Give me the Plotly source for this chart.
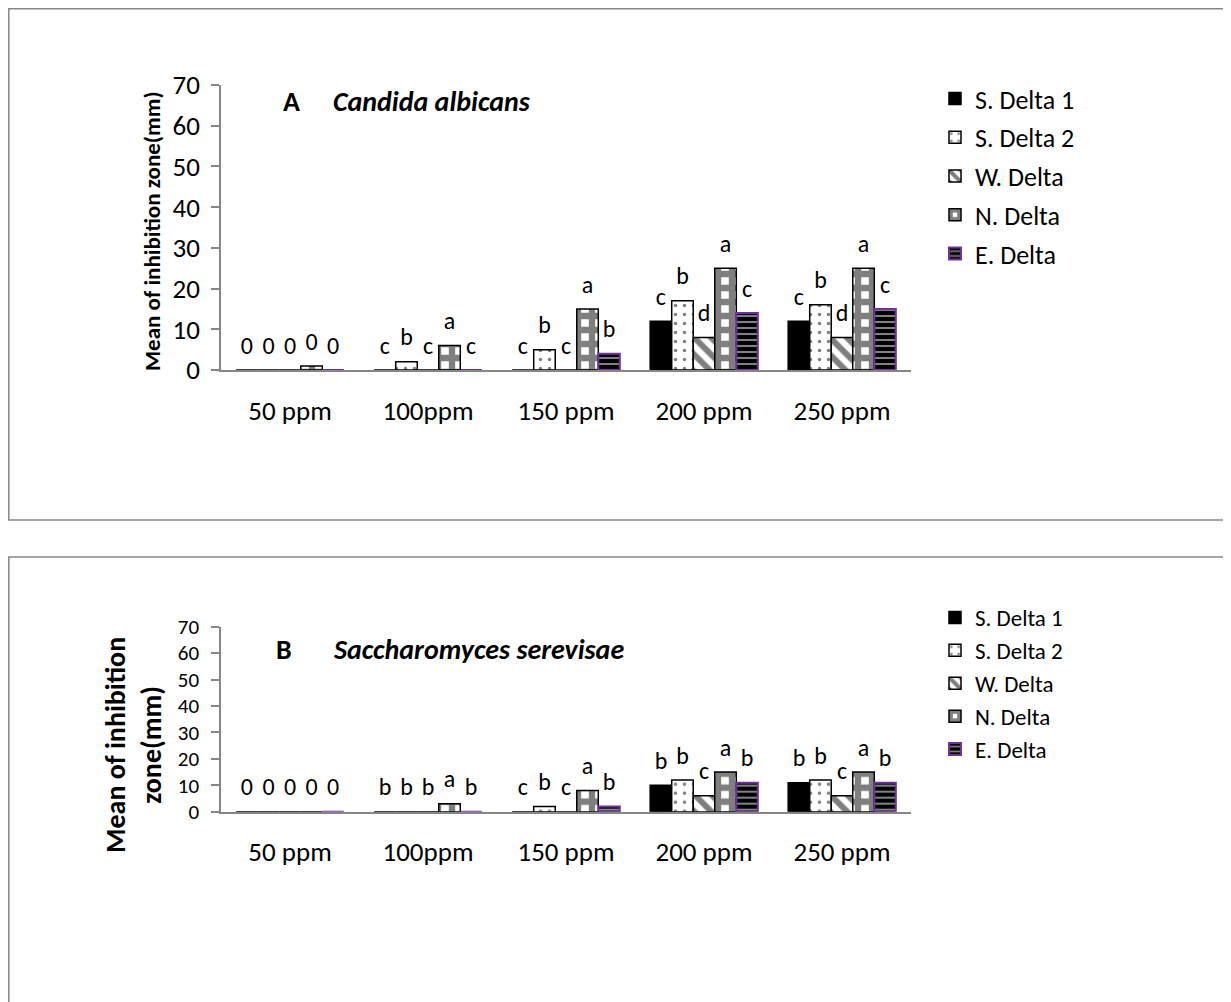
import plotly.graph_objects as go

# ---------------- data ----------------
categories = ["50 ppm", "100ppm", "150 ppm", "200 ppm", "250 ppm"]
series_names = ["S. Delta 1", "S. Delta 2", "W. Delta", "N. Delta", "E. Delta"]

# Panel A: Candida albicans
a_s_delta1 = [0, 0, 0, 12, 12]
a_s_delta2 = [0, 2, 5, 17, 16]
a_w_delta = [0, 0, 0, 8, 8]
a_n_delta = [1, 6, 15, 25, 25]
a_e_delta = [0, 0, 4, 14, 15]

a_lab_s_delta1 = ["0", "c", "c", "c", "c"]
a_lab_s_delta2 = ["0", "b", "b", "b", "b"]
a_lab_w_delta = ["0", "c", "c", "d", "d"]
a_lab_n_delta = ["0", "a", "a", "a", "a"]
a_lab_e_delta = ["0", "c", "b", "c", "c"]

# Panel B: Saccharomyces serevisae
b_s_delta1 = [0, 0, 0, 10, 11]
b_s_delta2 = [0, 0, 2, 12, 12]
b_w_delta = [0, 0, 0, 6, 6]
b_n_delta = [0, 3, 8, 15, 15]
b_e_delta = [0, 0, 2, 11, 11]

b_lab_s_delta1 = ["0", "b", "c", "b", "b"]
b_lab_s_delta2 = ["0", "b", "b", "b", "b"]
b_lab_w_delta = ["0", "b", "c", "c", "c"]
b_lab_n_delta = ["0", "a", "a", "a", "a"]
b_lab_e_delta = ["0", "b", "b", "b", "b"]

y_ticks = [0, 10, 20, 30, 40, 50, 60, 70]

a_values = [a_s_delta1, a_s_delta2, a_w_delta, a_n_delta, a_e_delta]
a_labels = [a_lab_s_delta1, a_lab_s_delta2, a_lab_w_delta, a_lab_n_delta, a_lab_e_delta]
b_values = [b_s_delta1, b_s_delta2, b_w_delta, b_n_delta, b_e_delta]
b_labels = [b_lab_s_delta1, b_lab_s_delta2, b_lab_w_delta, b_lab_n_delta, b_lab_e_delta]

# ---------------- styles ----------------
FONT = "Calibri, Carlito, Lato, sans-serif"
AXIS_GRAY = "#868686"
styles = [
    dict(pattern=dict(shape="", fillmode="replace", bgcolor="black"), color="black", line="black"),
    dict(pattern=dict(shape=".", fgcolor="black", bgcolor="white", size=9, solidity=0.12), color="white", line="black"),
    dict(pattern=dict(shape="\\", fgcolor="black", bgcolor="white", size=12, solidity=0.5), color="white", line="black"),
    dict(pattern=dict(shape="+", fgcolor="black", bgcolor="white", size=14, solidity=0.7), color="white", line="black"),
    dict(pattern=dict(shape="-", fgcolor="white", bgcolor="black", size=6, solidity=0.35), color="black", line="#7030A0"),
]

# the page body adds an 8px offset, so the figure is drawn 8px smaller
OFF = 8
W, H = 1231 - OFF, 1002 - OFF


def px_x(v):
    return (v - OFF) / W


def px_y(v):
    return 1 - (v - OFF) / H


fig = go.Figure()

panels = [
    ("x", "y", "legend", a_values, a_labels, "A"),
    ("x2", "y2", "legend2", b_values, b_labels, "B"),
]

for xa, ya, leg, vals, labs, pname in panels:
    for i, name in enumerate(series_names):
        st = styles[i]
        fig.add_trace(go.Bar(
            x=categories, y=vals[i], name=name,
            xaxis=xa, yaxis=ya, legend=leg,
            legendgroup=pname + name,
            offsetgroup=str(i), alignmentgroup=pname,
            marker=dict(color=st["color"], pattern=st["pattern"],
                        line=dict(color=st["line"], width=2 if i == 4 else 1.5)),
            hoverinfo="skip",
        ))
    for i, name in enumerate(series_names):
        fig.add_trace(go.Scatter(
            x=categories, y=vals[i], text=labs[i],
            mode="markers+text", textposition="top center",
            marker=dict(size=15, color="rgba(0,0,0,0)"),
            textfont=dict(family=FONT, size=24, color="black"),
            xaxis=xa, yaxis=ya, showlegend=False, cliponaxis=False,
            offsetgroup=str(i), alignmentgroup=pname + "s",
            hoverinfo="skip",
        ))

xdom = [px_x(221), px_x(911)]
common_x = dict(showline=True, linecolor=AXIS_GRAY, linewidth=1.5, ticks="",
                showgrid=False, zeroline=False,
                tickfont=dict(family=FONT, size=27, color="black"),
                fixedrange=True)
common_y = dict(range=[0, 70], tickvals=y_ticks, showline=True, linecolor=AXIS_GRAY,
                linewidth=1.5, ticks="outside", ticklen=8, tickcolor=AXIS_GRAY,
                tickwidth=1.5, showgrid=False, zeroline=False, fixedrange=True)

fig.update_layout(
    width=W, height=H,
    margin=dict(l=0, r=0, t=0, b=0, pad=0, autoexpand=False),
    paper_bgcolor="white", plot_bgcolor="white",
    barmode="group", bargap=0.22, bargroupgap=0,
    scattermode="group", scattergap=0.22,
    font=dict(family=FONT, color="black"),
    xaxis=dict(domain=xdom, anchor="y", ticklabelstandoff=16, **common_x),
    yaxis=dict(domain=[px_y(370), px_y(85)], anchor="x", ticklabelstandoff=6,
               tickfont=dict(family=FONT, size=27, color="black"), **common_y),
    xaxis2=dict(domain=xdom, anchor="y2", ticklabelstandoff=15, **common_x),
    yaxis2=dict(domain=[px_y(811.7), px_y(626.7)], anchor="x2", ticklabelstandoff=8,
                tickfont=dict(family=FONT, size=21, color="black"), **common_y),
    legend=dict(x=px_x(935), y=px_y(75), xanchor="left", yanchor="top",
                traceorder="grouped", tracegroupgap=2,
                font=dict(family=FONT, size=26, color="black"),
                bgcolor="rgba(0,0,0,0)"),
    legend2=dict(x=px_x(935), y=px_y(596), xanchor="left", yanchor="top",
                 traceorder="grouped", tracegroupgap=0,
                 font=dict(family=FONT, size=23, color="black"),
                 bgcolor="rgba(0,0,0,0)"),
    shapes=[
        dict(type="rect", xref="paper", yref="paper",
             x0=px_x(8.8), x1=px_x(1229), y0=px_y(520), y1=px_y(8.8),
             line=dict(color=AXIS_GRAY, width=1.5)),
        dict(type="rect", xref="paper", yref="paper",
             x0=px_x(8.8), x1=px_x(1229), y0=-0.02, y1=px_y(557),
             line=dict(color=AXIS_GRAY, width=1.5)),
    ],
    annotations=[
        dict(text="<b>A</b>", x=px_x(281), y=px_y(102), xref="paper", yref="paper",
             xanchor="left", yanchor="middle", showarrow=False,
             font=dict(family=FONT, size=28, color="black")),
        dict(text="<b><i>Candida albicans</i></b>", x=px_x(331), y=px_y(102),
             xref="paper", yref="paper", xanchor="left", yanchor="middle",
             showarrow=False, font=dict(family=FONT, size=28, color="black")),
        dict(text="<b>B</b>", x=px_x(274), y=px_y(649), xref="paper", yref="paper",
             xanchor="left", yanchor="middle", showarrow=False,
             font=dict(family=FONT, size=28, color="black")),
        dict(text="<b><i>Saccharomyces serevisae</i></b>", x=px_x(331), y=px_y(649),
             xref="paper", yref="paper", xanchor="left", yanchor="middle",
             showarrow=False, font=dict(family=FONT, size=28, color="black")),
        dict(text="<b>Mean of inhibition zone(mm)</b>", x=px_x(152), y=px_y(231),
             xref="paper", yref="paper", xanchor="center", yanchor="middle",
             textangle=-90, showarrow=False,
             font=dict(family=FONT, size=23, color="black")),
        dict(text="<b>Mean of inhibition<br>zone(mm)</b>", x=px_x(133), y=px_y(745),
             xref="paper", yref="paper", xanchor="center", yanchor="middle",
             textangle=-90, showarrow=False,
             font=dict(family=FONT, size=28, color="black")),
    ],
)

fig.write_html("out.html")
